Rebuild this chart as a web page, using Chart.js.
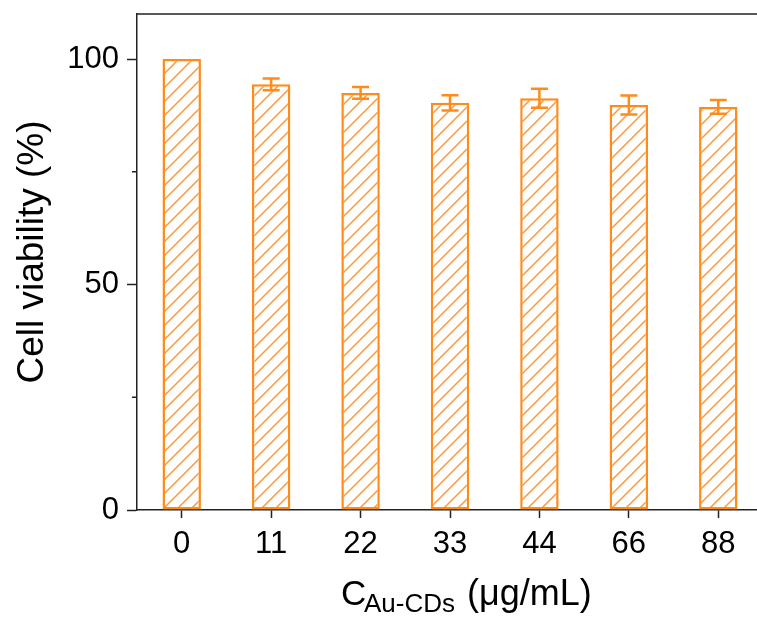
<!DOCTYPE html>
<html>
<head>
<meta charset="utf-8">
<script src="https://cdn.jsdelivr.net/npm/chart.js@4.4.1/dist/chart.umd.min.js"></script>
<style>
  html, body { margin: 0; padding: 0; background: #fff; overflow: hidden; }
  #wrap { width: 757px; height: 619px; overflow: hidden; }
</style>
</head>
<body>
<div id="wrap"><canvas id="myChart" width="771" height="619"></canvas></div>
<script>
// data
const doses = ['0', '11', '22', '33', '44', '66', '88'];
const viability = [100, 94.4, 92.5, 90.3, 91.3, 89.8, 89.4];
const viabilityErr = [0, 1.3, 1.3, 1.7, 2.1, 2.1, 1.5];
const yTicks = [0, 50, 100];
const yMinorTicks = [25, 75];

const orange = '#FF8C1A';
const fontFamily = "'Liberation Sans', Arial, sans-serif";

// hatch "/" pattern for the bars
function makeHatch() {
  const s = 14;
  const c = document.createElement('canvas');
  c.width = s; c.height = s;
  const g = c.getContext('2d');
  g.fillStyle = '#fff';
  g.fillRect(0, 0, s, s);
  g.strokeStyle = '#F59A40';
  g.lineWidth = 1.5;
  g.beginPath();
  g.moveTo(0, s); g.lineTo(s, 0);
  g.moveTo(-2, 2); g.lineTo(2, -2);
  g.moveTo(s - 2, s + 2); g.lineTo(s + 2, s - 2);
  g.stroke();
  return g.createPattern(c, 'repeat');
}

const extras = {
  id: 'extras',
  afterDatasetsDraw(chart) {
    const ctx = chart.ctx;
    const y = chart.scales.y;
    const area = chart.chartArea;
    const meta = chart.getDatasetMeta(0);
    ctx.save();
    // error bars
    ctx.strokeStyle = orange;
    ctx.lineWidth = 2.5;
    meta.data.forEach((bar, i) => {
      const e = viabilityErr[i];
      if (!e) return;
      const yt = y.getPixelForValue(viability[i] + e);
      const yb = y.getPixelForValue(viability[i] - e);
      ctx.beginPath();
      ctx.moveTo(bar.x, yt); ctx.lineTo(bar.x, yb);
      ctx.moveTo(bar.x - 8.5, yt); ctx.lineTo(bar.x + 8.5, yt);
      ctx.moveTo(bar.x - 8.5, yb); ctx.lineTo(bar.x + 8.5, yb);
      ctx.stroke();
    });
    // top frame line
    ctx.strokeStyle = '#222';
    ctx.lineWidth = 1.5;
    ctx.beginPath();
    ctx.moveTo(area.left, area.top); ctx.lineTo(area.right + 2, area.top);
    ctx.stroke();
    // minor ticks on y
    ctx.beginPath();
    yMinorTicks.forEach(v => {
      const py = y.getPixelForValue(v);
      ctx.moveTo(area.left - 5, py); ctx.lineTo(area.left, py);
    });
    ctx.stroke();
    ctx.restore();
  },
  afterDraw(chart) {
    const ctx = chart.ctx;
    ctx.save();
    ctx.fillStyle = '#000';
    ctx.textBaseline = 'alphabetic';
    // y title
    ctx.save();
    ctx.translate(43, 252);
    ctx.rotate(-Math.PI / 2);
    ctx.textAlign = 'center';
    ctx.font = '37px ' + fontFamily;
    ctx.fillText('Cell viability (%)', 0, 0);
    ctx.restore();
    // x title with subscript
    ctx.textAlign = 'left';
    ctx.font = '35px ' + fontFamily;
    ctx.fillText('C', 341, 605);
    ctx.font = '26px ' + fontFamily;
    ctx.fillText('Au-CDs', 364, 612);
    ctx.font = '36px ' + fontFamily;
    ctx.fillText('(\u03BCg/mL)', 467, 605);
    ctx.restore();
  }
};

const data = {
  labels: doses,
  datasets: [{
    data: viability,
    backgroundColor: makeHatch(),
    borderColor: orange,
    borderWidth: 2.5,
    borderSkipped: false,
    barPercentage: 0.43,
    categoryPercentage: 1
  }]
};

const config = {
  type: 'bar',
  data: data,
  options: {
    responsive: false,
    animation: false,
    layout: { padding: { left: 0, top: 14, right: 8, bottom: 0 } },
    plugins: { legend: { display: false }, tooltip: { enabled: false } },
    scales: {
      x: {
        grid: { display: true, drawOnChartArea: false, offset: false, tickLength: 8, tickColor: '#222', tickWidth: 1.5 },
        border: { color: '#222', width: 1.5 },
        ticks: { color: '#000', font: { family: fontFamily, size: 31 }, padding: 8, maxRotation: 0 },
        afterFit(scale) { scale.height = 109; scale.paddingLeft = 0; scale.paddingRight = 0; }
      },
      y: {
        min: 0,
        max: 110,
        grid: { display: true, drawOnChartArea: false, tickLength: 10, tickColor: '#222', tickWidth: 1.5 },
        border: { color: '#222', width: 1.5 },
        ticks: { color: '#000', font: { family: fontFamily, size: 31 }, padding: 8 },
        afterBuildTicks(scale) { scale.ticks = yTicks.map(v => ({ value: v })); },
        afterFit(scale) { scale.width = 137; scale.paddingTop = 0; scale.paddingBottom = 0; }
      }
    }
  },
  plugins: [extras]
};

const myChart = new Chart(document.getElementById('myChart'), config);
</script>
</body>
</html>
